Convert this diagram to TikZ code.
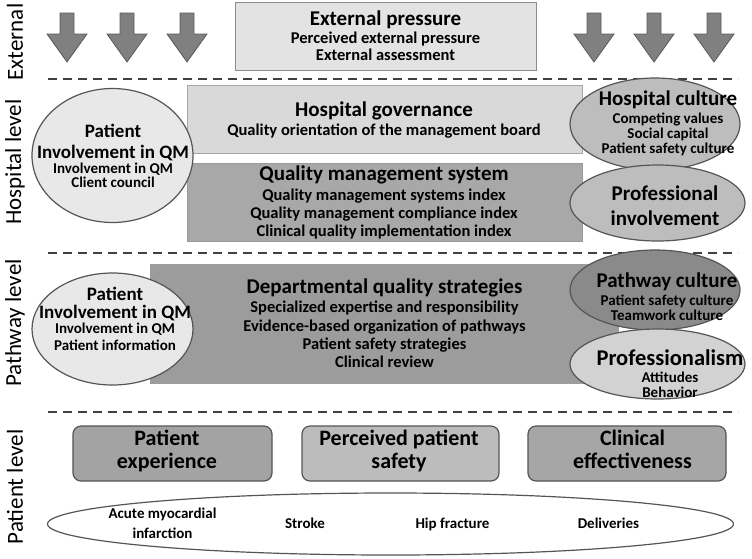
\documentclass[tikz,border=0pt]{standalone}
\usepackage{fontspec}
\setmainfont{Carlito}
\usetikzlibrary{shapes.geometric}
\definecolor{arrowfill}{HTML}{808080}
\definecolor{arrowline}{HTML}{5A5A5A}
\definecolor{extfill}{HTML}{E3E3E3}
\definecolor{extline}{HTML}{8C8C8C}
\definecolor{govfill}{HTML}{D9D9D9}
\definecolor{qmsfill}{HTML}{A8A8A8}
\definecolor{deptfill}{HTML}{9C9C9C}
\definecolor{ellline}{HTML}{555555}
\definecolor{ellfill}{HTML}{E8E8E8}
\definecolor{culfill}{HTML}{BDBDBD}
\definecolor{pathfill}{HTML}{8A8A8A}
\definecolor{proffill}{HTML}{D2D2D2}
\definecolor{pafill}{HTML}{A3A3A3}
\definecolor{pbfill}{HTML}{BCBCBC}
\definecolor{pcfill}{HTML}{A6A6A6}
\newcommand\ttlA[1]{{\fontsize{21}{21}\selectfont #1}}
\newcommand\ttlB[1]{{\fontsize{19}{19}\selectfont #1}}
\newcommand\nolsl{\lineskiplimit=-30pt\relax}
\newcommand\boxfont{\bfseries\fontsize{16.5}{18}\selectfont\nolsl}
\newcommand\txtfont{\bfseries\fontsize{15}{15}\selectfont\nolsl}
\newcommand\pboxfont{\bfseries\fontsize{22}{23}\selectfont\nolsl}
\newcommand\pifont{\bfseries\fontsize{21}{25}\selectfont\nolsl}
\begin{document}
\begin{tikzpicture}[x=1pt,y=-1pt,
  lvl/.style={rotate=90, inner sep=0pt, font=\fontsize{23}{24}\selectfont},
  dline/.style={draw=black!75, line width=1.5pt, dash pattern=on 9pt off 6pt},
  bigarrow/.style={fill=arrowfill, draw=arrowline, line width=0.8pt},
  box/.style={rectangle, inner sep=0pt},
  btxt/.style={align=center, inner sep=0pt, anchor=base, font=\boxfont},
  ell/.style={ellipse, inner sep=0pt, line width=1.2pt, draw=ellline},
  txt/.style={align=center, inner sep=0pt, anchor=base, font=\txtfont},
  pbox/.style={rectangle, rounded corners=8pt, draw=ellline, line width=1.2pt,
    minimum height=55pt, inner sep=0pt},
  ptxt/.style={align=center, inner sep=0pt, anchor=base, font=\pboxfont},
]
\useasboundingbox (0,0) rectangle (752,558);

% level labels
\node[lvl] (lext) at (15,42) {External};
\node[lvl] (lhosp) at (15,162) {Hospital level};
\node[lvl] (lpath) at (15,323) {Pathway level};
\node[lvl] (lpat) at (15,487) {Patient level};

% dashed separators
\draw[dline] (48,79) -- (738,79);
\draw[dline] (48,253) -- (738,253);
\draw[dline] (48,412) -- (738,412);

% block arrows
\foreach \c in {67,127,187,594,654,714}
  \draw[bigarrow] (\c-7,13) -- (\c+7,13) -- (\c+7,34) -- (\c+20,34)
     -- (\c,62) -- (\c-20,34) -- (\c-7,34) -- cycle;

% external pressure
\node[box, fill=extfill, draw=extline, line width=0.8pt,
  minimum width=301pt, minimum height=68pt] (ext) at (385.5,36) {};
\node[btxt, font=\bfseries\fontsize{16.5}{17}\selectfont\nolsl] (extt) at (385.5,60)
  {\ttlA{External pressure}\\[1pt]Perceived external pressure\\External assessment};

% hospital level boxes
\node[box, fill=govfill, draw=black!35, line width=0.8pt,
  minimum width=395pt, minimum height=68pt] (gov) at (384.5,119) {};
\node[btxt] (govt) at (384,135)
  {\ttlA{Hospital governance}\\[1pt]Quality orientation of the management board};
\node[box, fill=qmsfill, draw=black!40, line width=0.8pt,
  minimum width=395pt, minimum height=78pt] (qms) at (384.5,202) {};
\node[btxt] (qmst) at (384,236)
  {\ttlA{Quality management system}\\[2pt]Quality management systems index\\Quality management compliance index\\Clinical quality implementation index};

% pathway box
\node[box, fill=deptfill, draw=deptfill,
  minimum width=468pt, minimum height=119pt] (dept) at (384,323.5) {};
\node[btxt] (deptt) at (384.5,367)
  {\ttlA{Departmental quality strategies}\\[1pt]Specialized expertise and responsibility\\[1pt]Evidence-based organization of pathways\\Patient safety strategies\\Clinical review};

% left ellipses
\node[ell, fill=ellfill, minimum width=161pt, minimum height=134pt] (pih) at (112.5,155.5) {};
\node[txt] (piht) at (113,187) {\ttlB{Patient}\\[6pt]\ttlB{Involvement in QM}\\Involvement in QM\\[-1pt]Client council};
\node[ell, fill=ellfill, minimum width=161pt, minimum height=112pt] (pip) at (112.5,329) {};
\node[txt] (pipt) at (115,350) {\ttlB{Patient}\\[3pt]\ttlB{Involvement in QM}\\Involvement in QM\\[2pt]Patient information};

% right ellipses
\node[ell, fill=culfill, minimum width=170pt, minimum height=92pt] (hc) at (655,124) {};
\node[txt] (hct) at (668,153) {{\fontsize{21}{21}\selectfont Hospital culture}\\[3pt]Competing values\\Social capital\\Patient safety culture};
\node[ell, fill=culfill, minimum width=175pt, minimum height=76pt] (pi) at (657.5,203) {};
\node[txt, font=\pifont] (pit) at (665,225) {Professional\\involvement};
\node[ell, fill=pathfill, minimum width=170pt, minimum height=80pt] (pc) at (655,290) {};
\node[txt] (pct) at (667,320) {{\fontsize{21}{21}\selectfont Pathway culture}\\[3pt]Patient safety culture\\Teamwork culture};
\node[ell, fill=proffill, minimum width=175pt, minimum height=70pt] (pr) at (657.5,364) {};
\node[txt] (prt) at (670,397) {{\fontsize{22.5}{22}\selectfont Professionalism}\\[2pt]Attitudes\\Behavior};

% patient level boxes
\node[pbox, fill=pafill, minimum width=199pt] (pexp) at (172.5,453.5) {};
\node[ptxt] (pexpt) at (167,468) {Patient\\experience};
\node[pbox, fill=pbfill, minimum width=197pt] (psaf) at (400.5,453.5) {};
\node[ptxt] (psaft) at (399,468) {Perceived patient\\safety};
\node[pbox, fill=pcfill, minimum width=198pt] (ceff) at (627,453.5) {};
\node[ptxt] (cefft) at (632.5,468) {Clinical\\effectiveness};

% bottom ellipse with conditions
\node[ellipse, draw=ellline, line width=1.2pt, fill=white, inner sep=0pt,
  minimum width=686pt, minimum height=62pt] (cond) at (390.5,524) {};
\node[txt] (ami) at (162.5,538) {Acute myocardial\\[5pt]infarction};
\node[txt] (stroke) at (305,528) {Stroke};
\node[txt] (hip) at (452.5,528) {Hip fracture};
\node[txt] (del) at (608.5,528) {Deliveries};
\end{tikzpicture}
\end{document}
